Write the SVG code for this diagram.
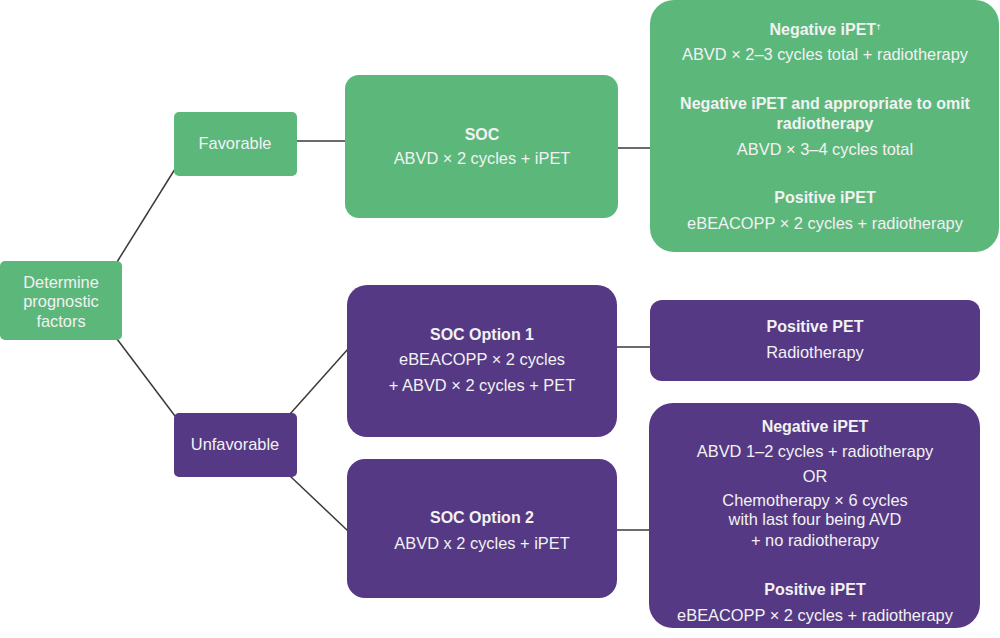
<svg xmlns="http://www.w3.org/2000/svg" width="1000" height="638" viewBox="0 0 1000 638">
<style>
.g{fill:#5cb77b}
.p{fill:#553984}
text{font-family:"Liberation Sans",Arial,sans-serif;font-size:16.4px;fill:#f2f2f2;text-anchor:middle}
.b{font-weight:bold;font-size:16px}
.c{stroke:#3a3a3a;stroke-width:1.5;fill:none}
</style>
<rect width="1000" height="638" fill="#ffffff"/>
<g id="connectors">
<line class="c" x1="117" y1="262" x2="175" y2="169"/>
<line class="c" x1="117" y1="339" x2="175" y2="416"/>
<line class="c" x1="297" y1="141" x2="346" y2="141"/>
<line class="c" x1="618" y1="148" x2="651" y2="148"/>
<line class="c" x1="290" y1="414" x2="348" y2="349"/>
<line class="c" x1="290" y1="476" x2="348" y2="531"/>
<line class="c" x1="617" y1="347" x2="651" y2="347"/>
<line class="c" x1="617" y1="530" x2="650" y2="530"/>
</g>
<g id="determine">
<rect class="g" x="0" y="261" width="122" height="79" rx="5"/>
<text x="61" y="288">Determine</text>
<text x="61" y="307">prognostic</text>
<text x="61" y="327">factors</text>
</g>
<g id="favorable">
<rect class="g" x="174" y="112" width="123" height="64" rx="5"/>
<text x="235" y="149">Favorable</text>
</g>
<g id="soc">
<rect class="g" x="345" y="75" width="273" height="143" rx="14"/>
<text class="b" x="482" y="140">SOC</text>
<text x="482" y="164">ABVD × 2 cycles +  iPET</text>
</g>
<g id="fav-outcomes">
<rect class="g" x="650" y="0" width="349" height="252" rx="24"/>
<text class="b" x="825" y="35">Negative iPET<tspan font-size="8" dy="-6">†</tspan></text>
<text x="825" y="60">ABVD × 2–3 cycles total + radiotherapy</text>
<text class="b" x="825" y="109">Negative iPET and appropriate to omit</text>
<text class="b" x="825" y="129">radiotherapy</text>
<text x="825" y="155">ABVD × 3–4 cycles total</text>
<text class="b" x="825" y="203">Positive iPET</text>
<text x="825" y="229">eBEACOPP × 2 cycles + radiotherapy</text>
</g>
<g id="unfavorable">
<rect class="p" x="174" y="413" width="123" height="64" rx="5"/>
<text x="235" y="450">Unfavorable</text>
</g>
<g id="soc-option-1">
<rect class="p" x="347" y="285" width="270" height="152" rx="20"/>
<text class="b" x="482" y="340">SOC Option 1</text>
<text x="482" y="365">eBEACOPP × 2 cycles</text>
<text x="482" y="391">+ ABVD × 2 cycles + PET</text>
</g>
<g id="positive-pet">
<rect class="p" x="650" y="300" width="330" height="81" rx="12"/>
<text class="b" x="815" y="332">Positive PET</text>
<text x="815" y="358">Radiotherapy</text>
</g>
<g id="soc-option-2">
<rect class="p" x="347" y="459" width="270" height="139" rx="18"/>
<text class="b" x="482" y="523">SOC Option 2</text>
<text x="482" y="549">ABVD x 2 cycles + iPET</text>
</g>
<g id="unfav-outcomes">
<rect class="p" x="649" y="403" width="331" height="225" rx="24"/>
<text class="b" x="815" y="432">Negative iPET</text>
<text x="815" y="457">ABVD 1–2 cycles + radiotherapy</text>
<text x="815" y="482">OR</text>
<text x="815" y="506">Chemotherapy × 6 cycles</text>
<text x="815" y="525">with last four being AVD</text>
<text x="815" y="546">+ no radiotherapy</text>
<text class="b" x="815" y="595">Positive iPET</text>
<text x="815" y="621">eBEACOPP × 2 cycles + radiotherapy</text>
</g>
</svg>
